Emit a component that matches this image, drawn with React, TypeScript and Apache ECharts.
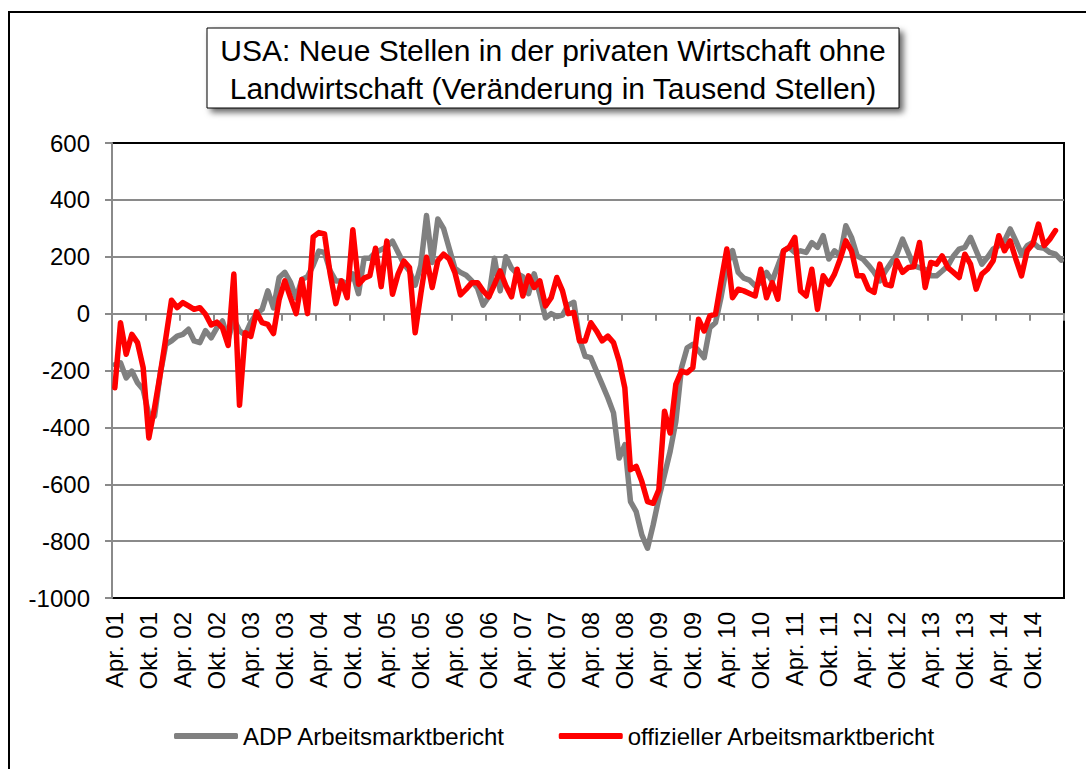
import React, { useEffect, useRef } from 'react';
import * as echarts from 'echarts';

const FONT = '"Liberation Sans", Arial, sans-serif';

const TITLE_LINES = [
  'USA: Neue Stellen in der privaten Wirtschaft ohne',
  'Landwirtschaft (Veränderung in Tausend Stellen)',
];

const SERIES_NAMES = ['ADP Arbeitsmarktbericht', 'offizieller Arbeitsmarktbericht'];

const MONTH_NAMES = ['Jan.', 'Feb.', 'Mär.', 'Apr.', 'Mai', 'Jun.', 'Jul.', 'Aug.', 'Sep.', 'Okt.', 'Nov.', 'Dez.'];
const START_YEAR = 2001;
const START_MONTH = 3; // April
const MONTH_COUNT = 168; // Apr. 01 .. Mär. 15

const categories: string[] = [];
for (let k = 0; k < MONTH_COUNT; k++) {
  const m = (START_MONTH + k) % 12;
  const y = START_YEAR + Math.floor((START_MONTH + k) / 12);
  categories.push(`${MONTH_NAMES[m]} ${String(y % 100).padStart(2, '0')}`);
}

// ADP Arbeitsmarktbericht (Apr. 01 – Mär. 15)
const adp = [
  -179, -173, -226, -202, -243, -267, -355, -361, -214, -108, -96, -79,
  -73, -55, -96, -102, -60, -85, -50, -26, -90, -20, -60, -75,
  -30, 0, 15, 80, 20, 127, 145, 110, 55, 120, 130, 170,
  220, 215, 150, 115, 115, 105, 140, 70, 195, 195, 215, 225,
  235, 255, 215, 175, 150, 100, 170, 345, 180, 333, 300, 230,
  160, 145, 135, 115, 90, 30, 60, 195, 80, 200, 160, 140,
  130, 70, 140, 68, -15, 0, -10, -5, 30, 40, -90, -150,
  -155, -202, -249, -296, -349, -508, -461, -661, -696, -778, -825, -743,
  -649, -567, -484, -379, -190, -120, -108, -130, -155, -49, -32, 60,
  170, 222, 145, 125, 118, 98, 109, 145, 115, 168, 221, 233,
  215, 221, 215, 250, 233, 274, 192, 221, 203, 309, 268, 203,
  192, 170, 145, 115, 150, 180, 209, 262, 215, 168, 162, 156,
  133, 133, 150, 168, 203, 227, 233, 268, 221, 174, 198, 227,
  239, 256, 298, 256, 209, 239, 250, 233, 230, 215, 209, 188,
];

// offizieller Arbeitsmarktbericht (Apr. 01 – Feb. 15)
const official = [
  -261, -32, -143, -73, -102, -190, -437, -332, -214, -85, 47, 21,
  39, 27, 15, 21, -2, -40, -30, -50, -112, 139, -322, -67,
  -80, 6, -32, -38, -70, 50, 115, 56, 0, 120, 0, 270,
  285, 280, 140, 35, 115, 56, 295, 103, 125, 133, 230, 95,
  255, 68, 140, 185, 162, -67, 70, 198, 92, 186, 209, 192,
  145, 66, 86, 109, 109, 80, 59, 103, 150, 98, 59, 156,
  62, 133, 92, 115, 27, 56, 127, 80, 0, 4, -96, -96,
  -32, -61, -96, -79, -102, -167, -261, -549, -537, -590, -661, -667,
  -620, -343, -420, -249, -202, -208, -190, -20, -61, -8, -2, 115,
  227, 56, 86, 80, 71, 62, 156, 56, 109, 51, 221, 233,
  268, 80, 62, 156, 15, 133, 103, 139, 192, 256, 221, 133,
  133, 86, 75, 174, 103, 98, 186, 145, 162, 165, 250, 92,
  180, 174, 203, 162, 145, 127, 209, 174, 86, 139, 156, 186,
  274, 221, 256, 192, 133, 221, 245, 315, 239, 262, 292,
];

const Y_MIN = -1000;
const Y_MAX = 600;
const Y_STEP = 200;

const GRID_GRAY = '#8a8a8a';

export default function App() {
  const ref = useRef<HTMLDivElement>(null);

  useEffect(() => {
    if (!ref.current) return;
    const chart = echarts.init(ref.current, null, { renderer: 'svg' });
    chart.setOption({
      animation: false,
      backgroundColor: '#ffffff',
      textStyle: { fontFamily: FONT },
      grid: {
        left: 112,
        top: 143,
        right: 22,
        bottom: 171,
        show: true,
        borderColor: '#000000',
        borderWidth: 2,
        backgroundColor: 'transparent',
        containLabel: false,
        outerBoundsMode: 'none',
      },
      graphic: [
        {
          type: 'rect',
          shape: { x: 9, y: 12, width: 1100, height: 800 },
          style: { fill: 'none', stroke: '#000000', lineWidth: 2 },
          silent: true,
          z: 0,
        },
        {
          type: 'rect',
          shape: { x: 207, y: 28, width: 692, height: 80 },
          style: {
            fill: '#ffffff',
            stroke: '#000000',
            lineWidth: 1,
            shadowBlur: 6,
            shadowOffsetX: 4,
            shadowOffsetY: 4,
            shadowColor: 'rgba(0,0,0,0.6)',
          },
          silent: true,
          z: 10,
        },
        {
          type: 'text',
          x: 553,
          y: 69,
          style: {
            text: TITLE_LINES.join('\n'),
            fill: '#000000',
            fontSize: 30,
            fontFamily: FONT,
            lineHeight: 38,
            align: 'center',
            verticalAlign: 'middle',
            textAlign: 'center',
            textVerticalAlign: 'middle',
          },
          silent: true,
          z: 11,
        },
      ],
      legend: {
        data: SERIES_NAMES,
        left: 169,
        top: 719,
        icon: 'roundRect',
        itemWidth: 64,
        itemHeight: 6,
        itemGap: 53,
        textStyle: { fontSize: 24, color: '#000000', fontFamily: FONT },
      },
      xAxis: [
        {
          type: 'category',
          data: categories,
          boundaryGap: true,
          position: 'bottom',
          axisLine: { show: false, onZero: false },
          axisTick: { show: false },
          splitLine: { show: false },
          axisLabel: {
            interval: (index: number) => index % 6 === 0,
            rotate: 90,
            margin: 14,
            fontSize: 24,
            color: '#000000',
            fontFamily: FONT,
          },
        },
        {
          type: 'category',
          data: categories,
          boundaryGap: true,
          position: 'bottom',
          axisLine: { show: true, onZero: true, lineStyle: { color: GRID_GRAY, width: 2 } },
          axisTick: {
            show: true,
            interval: 5,
            length: 7,
            lineStyle: { color: GRID_GRAY, width: 2 },
          },
          axisLabel: { show: false },
          splitLine: { show: false },
        },
      ],
      yAxis: {
        type: 'value',
        min: Y_MIN,
        max: Y_MAX,
        interval: Y_STEP,
        axisLine: { show: true, lineStyle: { color: GRID_GRAY, width: 2 } },
        axisTick: { show: true, length: 7, lineStyle: { color: GRID_GRAY, width: 2 } },
        splitLine: {
          show: true,
          showMinLine: false,
          showMaxLine: false,
          lineStyle: { color: GRID_GRAY, width: 2 },
        },
        axisLabel: {
          margin: 22,
          fontSize: 24,
          color: '#000000',
          fontFamily: FONT,
          formatter: (v: number) => String(v),
        },
      },
      series: [
        {
          name: SERIES_NAMES[0],
          type: 'line',
          xAxisIndex: 0,
          data: adp,
          showSymbol: false,
          symbol: 'none',
          color: '#808080',
          lineStyle: { color: '#808080', width: 5.5, cap: 'round', join: 'round' },
          z: 3,
        },
        {
          name: SERIES_NAMES[1],
          type: 'line',
          xAxisIndex: 0,
          data: official,
          showSymbol: false,
          symbol: 'none',
          color: '#ff0000',
          lineStyle: { color: '#ff0000', width: 5.5, cap: 'round', join: 'round' },
          z: 4,
        },
      ],
    });
    return () => chart.dispose();
  }, []);

  return (
    <div
      ref={ref}
      style={{ position: 'absolute', left: 0, top: 0, width: 1086, height: 769, background: '#ffffff' }}
    />
  );
}
